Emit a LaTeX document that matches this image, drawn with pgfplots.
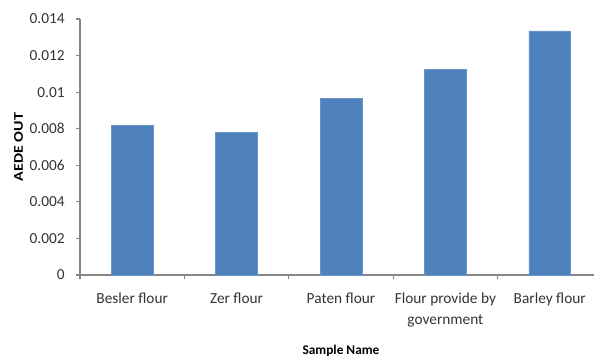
\documentclass[border=0pt]{standalone}
\usepackage{pgfplots}
\pgfplotsset{compat=1.18}
\usepackage{fontspec}
\setmainfont{Carlito}
\definecolor{barblue}{HTML}{4F81BD}
\definecolor{axgray}{HTML}{868686}
\begin{document}
\begin{tikzpicture}
\begin{axis}[
  scale only axis,
  width=391.5pt, height=192pt,
  xmin=-0.5, xmax=4.5,
  ymin=0, ymax=0.014,
  axis lines*=left,
  axis line style={axgray, line width=0.8pt},
  every tick/.style={axgray, line width=0.8pt},
  tick align=outside,
  xtick={0,1,2,3,4},
  major x tick style={draw=none},
  minor xtick={-0.5,0.5,1.5,2.5,3.5,4.5},
  minor tick length=3pt,
  major tick length=3pt,
  xticklabels={Besler flour, Zer flour, Paten flour, {Flour provide by\\government}, Barley flour},
  xticklabel style={align=center, font=\fontsize{11.5}{15.5}\selectfont, text=black!80, yshift=-7pt},
  ytick={0,0.002,0.004,0.006,0.008,0.01,0.012,0.014},
  yticklabels={0,0.002,0.004,0.006,0.008,0.01,0.012,0.014},
  yticklabel style={font=\fontsize{11.5}{14}\selectfont, text=black!80, xshift=-5pt},
  scaled y ticks=false,
  ylabel={\textbf{AEDE OUT}},
  ylabel style={font=\fontsize{11.5}{13}\selectfont},
  xlabel={\textbf{Sample Name}},
  xlabel style={font=\fontsize{11.5}{13}\selectfont},
  every axis y label/.style={at={(rel axis cs:0,0.5)}, rotate=90, xscale=1.2, anchor=center, yshift=46pt},
  every axis x label/.style={at={(rel axis cs:0.5,0)}, anchor=center, yshift=-57pt},
  clip=false,
]
\addplot[ybar, bar width=31.3pt, fill=barblue, draw=barblue!85!white] coordinates {
  (0,0.00818) (1,0.0078) (2,0.00966) (3,0.01126) (4,0.01335)
};
\coordinate (O) at (rel axis cs:0,0);
\end{axis}
\pgfresetboundingbox
\path ([shift={(-60pt,-62.25pt)}]O) rectangle ([shift={(385.5pt,206.25pt)}]O);
\end{tikzpicture}
\end{document}
